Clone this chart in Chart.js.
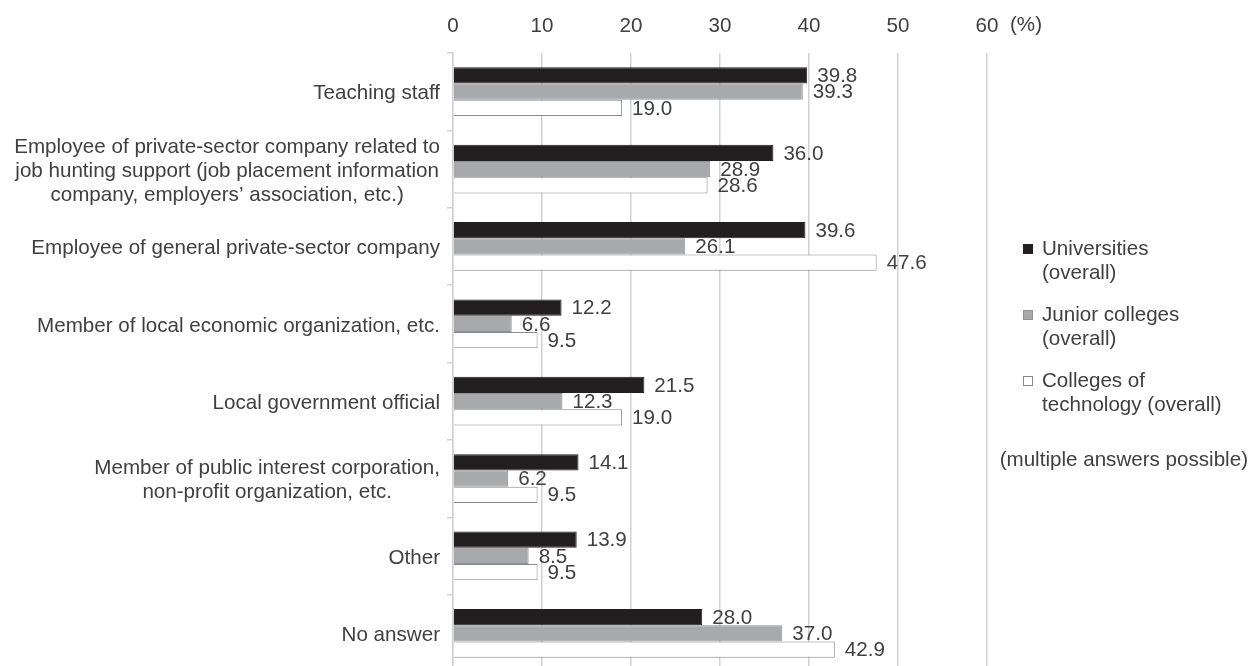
<!DOCTYPE html>
<html>
<head>
<meta charset="utf-8">
<title>Career support persons</title>
<script src="https://cdn.jsdelivr.net/npm/chart.js@4.4.1/dist/chart.umd.min.js"></script>
<style>
  html, body { margin: 0; padding: 0; background: #fff; overflow: hidden; }
  #wrap { width: 1250px; height: 672px; }
</style>
</head>
<body>
<div id="wrap"><canvas id="chart" width="1250" height="672"></canvas></div>
<script>
// ==========================
// Data
// ==========================

const categories = [
  ["Teaching staff"],
  ["Employee of private-sector company related to",
   "job hunting support (job placement information",
   "company, employers\u2019 association, etc.)"],
  ["Employee of general private-sector company"],
  ["Member of local economic organization, etc."],
  ["Local government official"],
  ["Member of public interest corporation,", "non-profit organization, etc."],
  ["Other"],
  ["No answer"],
];

const seriesNames = [
  ["Universities", "(overall)"],
  ["Junior colleges", "(overall)"],
  ["Colleges of", "technology (overall)"],
];

const universities = [39.8, 36.0, 39.6, 12.2, 21.5, 14.1, 13.9, 28.0];
const juniorColleges = [39.3, 28.9, 26.1, 6.6, 12.3, 6.2, 8.5, 37.0];
const techColleges = [19.0, 28.6, 47.6, 9.5, 19.0, 9.5, 9.5, 42.9];

const xTicks = [0, 10, 20, 30, 40, 50, 60];
const unitLabel = "(%)";
const noteText = "(multiple answers possible)";

// ==========================
// Styles
// ==========================

const FONT = "'Liberation Sans', Arial, sans-serif";
const FONT_SIZE = 20.6;
const TEXT = "#404040";
const GRID = "#d2d2d2";

const fills = ["#231f20", "#a7a9ac", "#ffffff"];
const borders = ["#231f20", "#8f9194", "#8a8a8a"];

// ==========================
// Plugins
// ==========================

// value labels go under the bars, like in the original
const valueLabels = {
  id: "valueLabels",
  beforeDatasetsDraw(chart) {
    const ctx = chart.ctx;
    ctx.save();
    ctx.font = FONT_SIZE + "px " + FONT;
    ctx.fillStyle = TEXT;
    ctx.textAlign = "left";
    ctx.textBaseline = "middle";
    chart.data.datasets.forEach((ds, i) => {
      const meta = chart.getDatasetMeta(i);
      meta.data.forEach((bar, j) => {
        ctx.fillText(ds.data[j].toFixed(1), bar.x + 10, bar.y + 1);
      });
    });
    ctx.restore();
  },
};

// category names, each block centred on its own widest line
const categoryLabels = {
  id: "categoryLabels",
  afterDraw(chart) {
    const ctx = chart.ctx;
    const yScale = chart.scales.y;
    const right = chart.chartArea.left - 13;
    const lineH = 24;
    ctx.save();
    ctx.font = FONT_SIZE + "px " + FONT;
    ctx.fillStyle = TEXT;
    ctx.textAlign = "center";
    ctx.textBaseline = "middle";
    categories.forEach((lines, i) => {
      const y = yScale.getPixelForValue(i);
      const maxW = Math.max(...lines.map((l) => ctx.measureText(l).width));
      const cx = right - maxW / 2;
      lines.forEach((line, k) => {
        ctx.fillText(line, cx, y + (k - (lines.length - 1) / 2) * lineH + 2);
      });
    });
    ctx.restore();
  },
};

// legend, unit and note on the right
const sideNotes = {
  id: "sideNotes",
  afterDraw(chart) {
    const ctx = chart.ctx;
    const area = chart.chartArea;
    ctx.save();
    ctx.font = FONT_SIZE + "px " + FONT;
    ctx.fillStyle = TEXT;
    ctx.textBaseline = "middle";
    ctx.textAlign = "left";

    ctx.fillText(unitLabel, area.right + 23, 25);

    const boxX = area.right + 36;
    const textX = area.right + 55;
    chart.data.datasets.forEach((ds, i) => {
      const top = 249 + i * 66;
      ctx.fillStyle = ds.backgroundColor;
      ctx.fillRect(boxX, top - 5, 10, 10);
      ctx.strokeStyle = ds.borderColor;
      ctx.lineWidth = 1;
      ctx.strokeRect(boxX + 0.5, top - 4.5, 9, 9);
      ctx.fillStyle = TEXT;
      seriesNames[i].forEach((line, k) => {
        ctx.fillText(line, textX, top + k * 24);
      });
    });

    // keep the note inside the canvas
    ctx.textAlign = "right";
    ctx.fillText(noteText, chart.width - 2, 460);
    ctx.restore();
  },
};

// ==========================
// Chart
// ==========================

const datasets = [universities, juniorColleges, techColleges].map((values, i) => ({
  label: seriesNames[i].join(" "),
  data: values,
  backgroundColor: fills[i],
  borderColor: borders[i],
  borderWidth: 1,
  borderSkipped: "start",
  barPercentage: 1,
  categoryPercentage: 0.63,
}));

new Chart(document.getElementById("chart"), {
  type: "bar",
  data: {
    labels: categories.map((c) => c.join(" ")),
    datasets: datasets,
  },
  options: {
    indexAxis: "y",
    responsive: false,
    animation: false,
    layout: {
      padding: { top: 0, right: 263, bottom: 0, left: 0 },
    },
    plugins: {
      legend: { display: false },
      tooltip: { enabled: false },
    },
    scales: {
      x: {
        position: "top",
        min: xTicks[0],
        max: xTicks[xTicks.length - 1],
        afterFit: (scale) => {
          scale.height = 53;
        },
        afterBuildTicks: (scale) => {
          scale.ticks = xTicks.map((v) => ({ value: v }));
        },
        ticks: {
          padding: 14,
          color: TEXT,
          font: { family: FONT, size: FONT_SIZE },
        },
        grid: {
          color: GRID,
          lineWidth: 1.5,
          drawTicks: false,
        },
        border: { display: false },
      },
      y: {
        afterFit: (scale) => {
          scale.width = 453;
        },
        ticks: { display: false },
        grid: {
          drawOnChartArea: false,
          drawTicks: true,
          tickLength: 6,
          color: GRID,
          lineWidth: 1.5,
        },
        border: { display: true, color: GRID, width: 1.5 },
      },
    },
  },
  plugins: [valueLabels, categoryLabels, sideNotes],
});
</script>
</body>
</html>
